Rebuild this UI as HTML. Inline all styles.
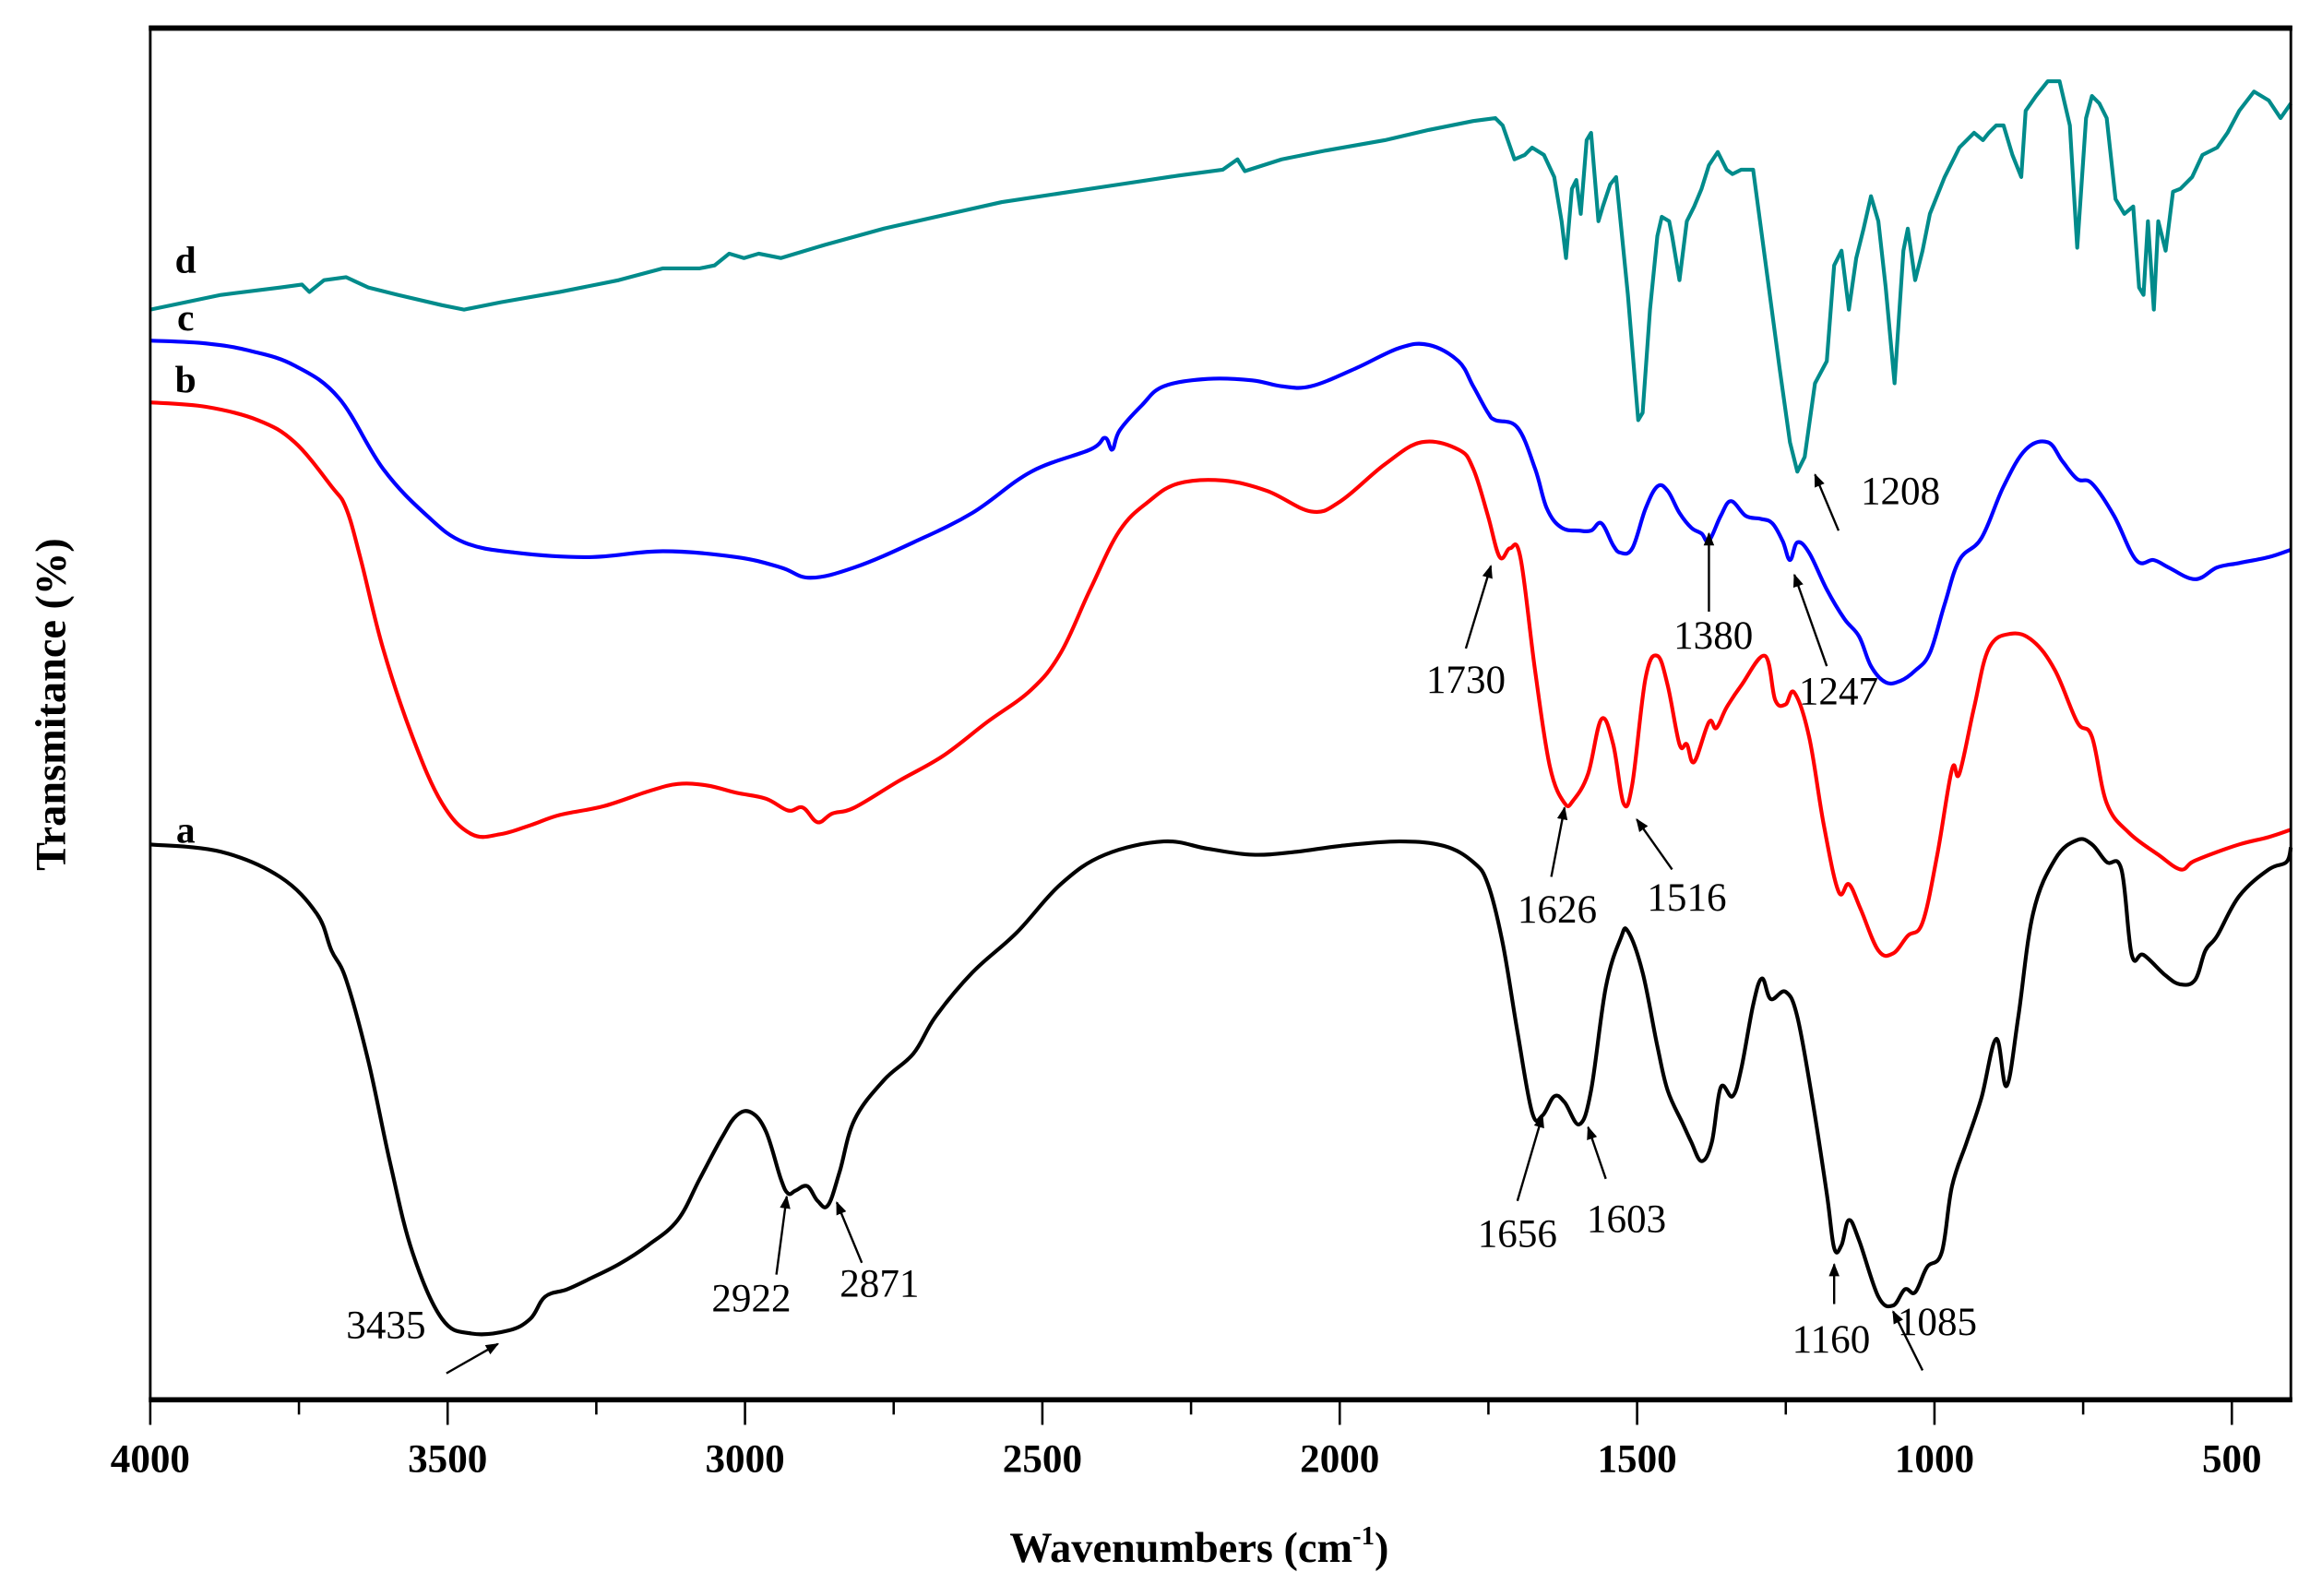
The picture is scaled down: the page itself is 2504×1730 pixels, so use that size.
<!DOCTYPE html>
<html><head><meta charset="utf-8"><style>
html,body{margin:0;padding:0;background:#fff;}
svg{display:block;}
text{font-family:"Liberation Serif",serif;}
</style></head><body>
<svg id="chart" width="2504" height="1730" viewBox="0 0 1568 1083" xmlns="http://www.w3.org/2000/svg">
<defs><marker id="ah" viewBox="0 0 10 10" refX="9" refY="5" markerWidth="9" markerHeight="9" orient="auto-start-reverse" markerUnits="userSpaceOnUse"><path d="M0,1 L10,5 L0,9 Z" fill="#000"/></marker></defs>
<g id="series"></g>
<g id="annot"></g>
<g id="axes"></g>
</svg>
<script>
const L=102,R=1555,T=18,B=950;
function xs(w){return L+(4000-w)*0.4037;}
function ys(v){return B-v;}
function px2w(x){return 4000-(x-L)/0.4037;}

const xTicks=[4000,3500,3000,2500,2000,1500,1000,500];
const xMinor=[3750,3250,2750,2250,1750,1250,750];

const aPts=[[102,573],[150,578],[190,595],[215,620],[225,645],[235,665],[250,720],[265,790],[280,850],[300,895],[320,905],[345,903],[360,895],[370,880],[385,875],[400,868],[420,858],[440,845],[460,828],[475,800],[490,772],[500,757],[510,755],[520,768],[530,800],[535,810],[540,808],[548,805],[555,815],[562,818],[570,795],[580,760],[600,733],[620,715],[635,690],[660,660],[690,633],[720,600],[750,580],[790,571],[820,576],[850,580],[880,578],[910,574],[950,571],[980,574],[1000,585],[1010,600],[1020,640],[1030,700],[1040,755],[1047,757],[1055,744],[1062,748],[1072,763],[1080,740],[1090,670],[1100,637],[1105,632],[1115,660],[1125,710],[1132,740],[1142,762],[1148,775],[1155,788],[1162,775],[1168,738],[1176,744],[1182,725],[1190,682],[1196,664],[1202,678],[1212,673],[1220,690],[1230,745],[1240,810],[1245,847],[1250,845],[1255,828],[1262,842],[1275,880],[1285,886],[1293,875],[1300,877],[1308,860],[1318,850],[1325,805],[1335,775],[1345,745],[1355,705],[1362,737],[1370,690],[1380,620],[1395,583],[1410,570],[1420,573],[1430,585],[1440,590],[1447,648],[1455,648],[1470,662],[1480,668],[1490,665],[1497,645],[1505,635],[1520,608],[1540,590],[1552,585],[1555,575]];
const bPts=[[102,273],[140,276],[175,285],[200,300],[225,330],[235,345],[245,380],[260,440],[280,500],[300,545],[320,566],[340,566],[360,560],[380,553],[410,547],[440,537],[460,532],[480,533],[500,538],[520,542],[535,550],[545,548],[555,558],[565,552],[580,548],[610,530],[640,513],[670,490],[700,468],[720,443],[740,400],[760,360],[780,340],[800,328],[830,326],[860,333],[890,347],[910,340],[940,315],[965,300],[990,305],[1000,318],[1010,350],[1018,378],[1025,372],[1032,378],[1042,455],[1052,520],[1062,545],[1068,543],[1078,525],[1087,488],[1095,505],[1102,545],[1108,532],[1117,460],[1125,445],[1132,465],[1140,505],[1145,505],[1150,517],[1160,490],[1165,494],[1172,480],[1182,465],[1198,445],[1205,475],[1212,478],[1218,470],[1228,500],[1238,560],[1248,605],[1255,600],[1263,617],[1275,645],[1285,647],[1295,635],[1305,626],[1315,580],[1325,522],[1330,525],[1340,480],[1350,440],[1365,430],[1380,435],[1395,455],[1410,490],[1420,500],[1430,545],[1445,565],[1465,580],[1480,590],[1488,585],[1500,580],[1520,573],[1540,568],[1555,563]];
const cPts=[[102,231],[140,233],[170,238],[200,248],[230,270],[260,318],[290,350],[315,368],[350,375],[400,378],[450,374],[500,378],[530,385],[550,392],[580,385],[620,368],[660,348],[700,320],[740,305],[750,297],[755,305],[760,292],[775,275],[790,262],[820,257],[850,258],[870,262],[890,262],[920,250],[950,236],[970,234],[990,245],[1000,262],[1010,280],[1015,285],[1030,290],[1042,318],[1050,345],[1060,358],[1072,360],[1080,360],[1087,355],[1095,370],[1100,375],[1108,372],[1117,345],[1125,330],[1132,333],[1140,348],[1148,358],[1155,362],[1160,367],[1168,350],[1175,340],[1185,350],[1195,352],[1203,355],[1210,367],[1215,380],[1220,368],[1228,375],[1240,400],[1252,420],[1262,432],[1270,452],[1280,463],[1290,462],[1300,455],[1310,443],[1320,410],[1330,380],[1345,365],[1360,330],[1375,305],[1390,300],[1400,313],[1410,325],[1420,328],[1435,350],[1450,380],[1462,380],[1472,385],[1490,393],[1505,385],[1520,382],[1540,378],[1555,373]];
const dPts=[[102,210],[150,200],[190,195],[205,193],[210,198],[220,190],[235,188],[250,195],[270,200],[300,207],[315,210],[340,205],[380,198],[420,190],[450,182],[475,182],[485,180],[495,172],[505,175],[515,172],[530,175],[560,166],[600,155],[640,146],[680,137],[720,131],[760,125],[800,119],[830,115],[840,108],[845,116],[870,108],[900,102],[940,95],[970,88],[1000,82],[1015,80],[1020,85],[1028,108],[1035,105],[1040,100],[1048,105],[1055,120],[1060,150],[1063,175],[1067,128],[1070,122],[1073,145],[1077,95],[1080,90],[1085,150],[1088,140],[1093,125],[1097,120],[1105,200],[1112,285],[1115,280],[1120,210],[1125,160],[1128,147],[1133,150],[1135,160],[1140,190],[1145,150],[1150,140],[1155,128],[1160,112],[1166,103],[1172,115],[1176,118],[1182,115],[1190,115],[1200,190],[1208,250],[1215,300],[1220,320],[1225,310],[1232,260],[1240,245],[1245,180],[1250,170],[1255,210],[1260,175],[1265,155],[1270,133],[1275,150],[1280,195],[1286,260],[1292,170],[1295,155],[1300,190],[1305,170],[1310,145],[1320,120],[1330,100],[1340,90],[1346,95],[1350,90],[1355,85],[1360,85],[1366,105],[1372,120],[1375,75],[1382,65],[1390,55],[1398,55],[1405,85],[1410,168],[1416,80],[1420,65],[1425,70],[1430,80],[1436,135],[1442,145],[1448,140],[1452,195],[1455,200],[1458,150],[1462,210],[1465,150],[1470,170],[1475,130],[1480,128],[1488,120],[1495,105],[1505,100],[1512,90],[1520,75],[1530,62],[1540,68],[1548,80],[1555,70]];
const aWave=aPts.map(p=>px2w(p[0])), aVal=aPts.map(p=>B-p[1]);
const bWave=bPts.map(p=>px2w(p[0])), bVal=bPts.map(p=>B-p[1]);
const cWave=cPts.map(p=>px2w(p[0])), cVal=cPts.map(p=>B-p[1]);
const dWave=dPts.map(p=>px2w(p[0])), dVal=dPts.map(p=>B-p[1]);

const NS="http://www.w3.org/2000/svg";
function mk(tag,attrs,parent){const e=document.createElementNS(NS,tag);for(const k in attrs)e.setAttribute(k,attrs[k]);parent.appendChild(e);return e;}
const sg=document.getElementById('series');
function smoothPath(P){
  let d='M'+P[0][0].toFixed(1)+','+P[0][1].toFixed(1);
  for(let i=0;i<P.length-1;i++){
    const p0=P[Math.max(0,i-1)],p1=P[i],p2=P[i+1],p3=P[Math.min(P.length-1,i+2)];
    const t=0.18;
    const c1x=p1[0]+(p2[0]-p0[0])*t,c1y=p1[1]+(p2[1]-p0[1])*t;
    const c2x=p2[0]-(p3[0]-p1[0])*t,c2y=p2[1]-(p3[1]-p1[1])*t;
    d+=' C'+c1x.toFixed(1)+','+c1y.toFixed(1)+' '+c2x.toFixed(1)+','+c2y.toFixed(1)+' '+p2[0].toFixed(1)+','+p2[1].toFixed(1);
  }
  return d;
}
function drawSeries(w,v,color,name,smooth){
  const P=w.map((x,i)=>[xs(x),ys(v[i])]);
  const d=smooth?smoothPath(P):P.map((p,i)=>(i?'L':'M')+p[0].toFixed(1)+','+p[1].toFixed(1)).join(' ');
  const p=mk('path',{d:d,fill:'none',stroke:color,'stroke-width':2.6,'stroke-linejoin':'round'},sg);
  
  
}
drawSeries(dWave,dVal,'#008b8b','series-d',false);
drawSeries(cWave,cVal,'#0000ff','series-c',true);
drawSeries(bWave,bVal,'#ff0000','series-b',true);
drawSeries(aWave,aVal,'#000000','series-a',true);

const ax=document.getElementById('axes');
const fr=mk('rect',{x:L,y:T,width:R-L,height:B-T,fill:'none',stroke:'#000','stroke-width':1.8},ax);


mk('line',{x1:L-1,y1:T+1,x2:R+1,y2:T+1,stroke:'#000','stroke-width':3.5},ax);
const xl=mk('line',{x1:L-1,y1:B,x2:R+1,y2:B,stroke:'#000','stroke-width':3.5},ax);


xTicks.forEach(t=>{
  mk('line',{x1:xs(t),y1:B,x2:xs(t),y2:B+17,stroke:'#000','stroke-width':1.6},ax);
  const tx=mk('text',{x:xs(t),y:B+49,'text-anchor':'middle','font-size':27,'font-weight':'bold'},ax);
  tx.textContent=t;
  
  
});
xMinor.forEach(t=>{mk('line',{x1:xs(t),y1:B,x2:xs(t),y2:B+10,stroke:'#000','stroke-width':1.6},ax);});

const an=document.getElementById('annot');
const labels=[['d',126,185],['c',126,224],['b',126,266],['a',126,572]];
labels.forEach(l=>{const t=mk('text',{x:l[1],y:l[2],'text-anchor':'middle','font-size':26,'font-weight':'bold'},an);t.textContent=l[0];
  
  });
const peaks=[['3435',262,908,303,932,338,912],['2922',510,890,527,865,534,812],['2871',597,880,585,857,568,816],
['1656',1030,846,1030,815,1047,757],['1603',1104,836,1090,800,1078,765],['1160',1243,918,1245,885,1245,858],
['1085',1315,906,1305,930,1285,890],['1626',1057,626,1053,595,1062,548],['1516',1145,618,1135,590,1111,556],
['1730',995,470,995,440,1012,384],['1380',1163,440,1160,415,1160,362],['1247',1248,478,1240,452,1218,390],
['1208',1290,342,1248,360,1232,322]];
peaks.forEach(p=>{
  const t=mk('text',{x:p[1],y:p[2],'text-anchor':'middle','font-size':27},an);t.textContent=p[0];
  
  
  mk('line',{x1:p[3],y1:p[4],x2:p[5],y2:p[6],stroke:'#000','stroke-width':1.5,'marker-end':'url(#ah)'},an);
});
const xt=mk('text',{x:814,y:1060,'text-anchor':'middle','font-size':29,'font-weight':'bold'},ax);
xt.innerHTML='Wavenumbers (cm<tspan dy="-12" font-size="18">-1</tspan><tspan dy="12">)</tspan>';


const yt=mk('text',{x:0,y:0,'text-anchor':'middle','font-size':29,'font-weight':'bold',transform:'translate(44,478) rotate(-90)'},ax);
yt.textContent='Transmitance (%)';


</script>
</body></html>
